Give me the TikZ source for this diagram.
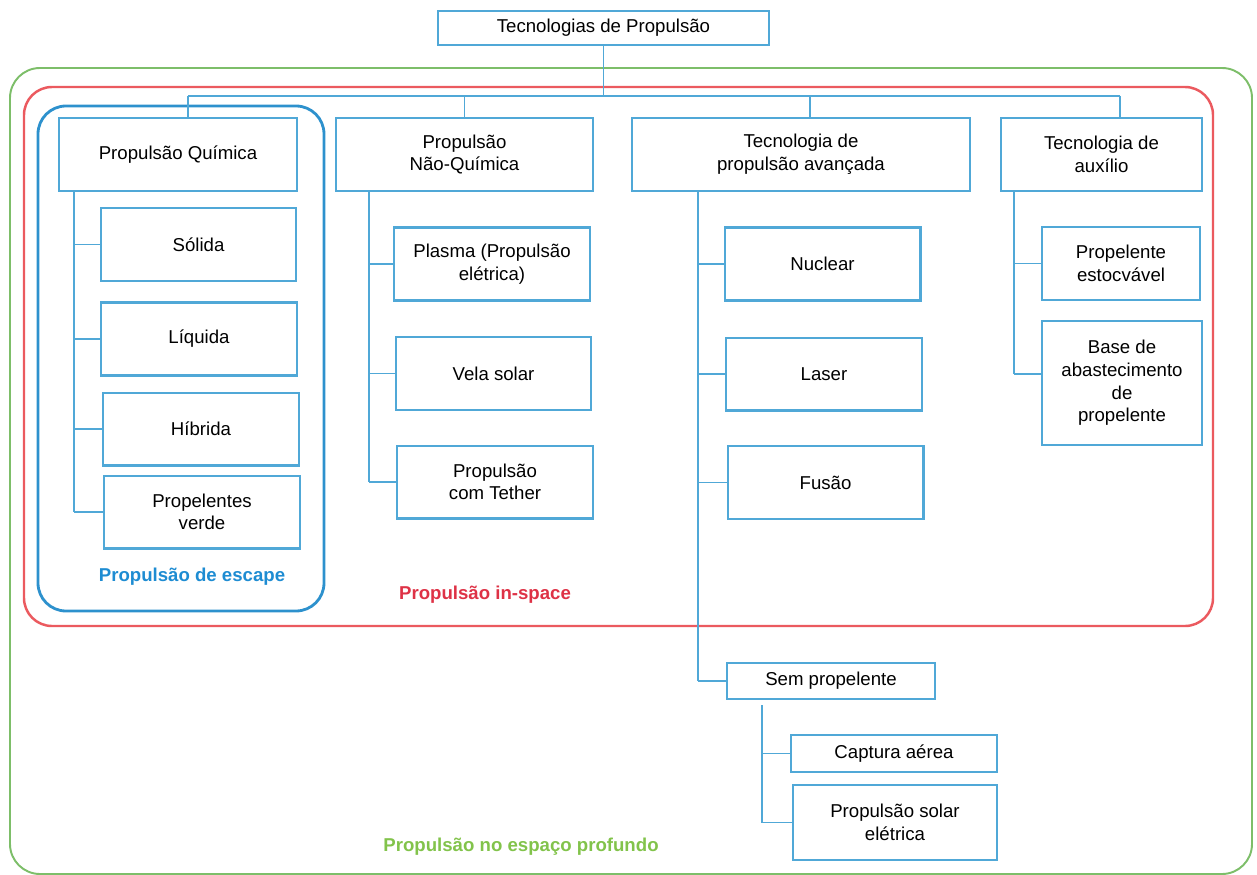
\documentclass[tikz,border=0pt]{standalone}
\usepackage{fontspec}
\setmainfont{Liberation Sans}
\usetikzlibrary{positioning,calc}
\definecolor{boxblue}{RGB}{80,168,215}
\definecolor{escblue}{RGB}{45,145,205}
\definecolor{lblblue}{RGB}{30,140,210}
\definecolor{spacered}{RGB}{235,90,95}
\definecolor{lblred}{RGB}{222,50,70}
\definecolor{deepgreen}{RGB}{125,190,105}
\definecolor{lblgreen}{RGB}{130,195,75}

\begin{document}
\begin{tikzpicture}[x=0.02cm, y=-0.02cm,
    box/.style={draw=boxblue, line width=1.15pt, align=center, inner sep=2pt,
        font=\fontsize{10.6}{12.9}\selectfont},
    leaf/.style={box, minimum width=3.92cm, minimum height=1.46cm},
    link/.style={draw=boxblue, line width=1.1pt},
    zone/.style={rounded corners=0.56cm},
    zonelabel/.style={font=\fontsize{10.6}{12.9}\selectfont\bfseries}]
    \useasboundingbox (0,0) rectangle (1257,875);

    % Nested regions
    \draw[zone, deepgreen, line width=1.1pt, rounded corners=0.6cm] (10,68) rectangle (1252,874);
    \draw[zone, spacered, line width=1.4pt] (24,87) rectangle (1213,626);
    \draw[zone, escblue, line width=1.6pt] (38,106) rectangle (324,611);
    \node[zonelabel, lblblue] (lblescape) at (192,577) {Propulsão de escape};
    \node[zonelabel, lblred] (lblinspace) at (485,595) {Propulsão in-space};
    \node[zonelabel, lblgreen] (lbldeep) at (521,847) {Propulsão no espaço profundo};

    % Root and first level
    \node[box, minimum width=6.62cm, minimum height=0.68cm] (root) at (603.5,28) {Tecnologias de Propulsão};
    \node[box, minimum width=4.76cm, minimum height=1.46cm] (quimica) at (178,154.5) {Propulsão Química};
    \node[box, minimum width=5.14cm, minimum height=1.46cm] (naoquimica) at (464.5,154.5) {Propulsão\\Não-Química};
    \node[box, minimum width=6.76cm, minimum height=1.46cm] (avancada) at (801,154.5) {Tecnologia de\\propulsão avançada};
    \node[box, minimum width=4.02cm, minimum height=1.46cm] (auxilio) at (1101.5,154.5) {Tecnologia de\\auxílio};

    % Bus from the root
    \coordinate (busL) at (188,96);
    \coordinate (busR) at (1120,96);
    \draw[link] (root.south) -- (root.south |- busL);
    \draw[link] (busL) -- (busR);
    \foreach \n/\x in {quimica/188, naoquimica/464.5, avancada/810, auxilio/1120} {
        \draw[link] (\x,96) -- (\x,96 |- \n.north);
    }

    % Chemical propulsion
    \node[leaf] (solida) at (198.5,244.5) {Sólida};
    \node[leaf] (liquida) at (199,339) {Líquida};
    \node[leaf] (hibrida) at (201,429) {Híbrida};
    \node[leaf] (verde) at (202,512) {Propelentes\\verde};
    \draw[link] (74,0 |- quimica.south) -- (74,0 |- verde.west);
    \foreach \c in {solida,liquida,hibrida,verde} {
        \draw[link] (74,0 |- \c.west) -- (\c.west);
    }

    % Non-chemical propulsion
    \node[leaf] (plasma) at (492,264) {Plasma (Propulsão\\elétrica)};
    \node[leaf] (vela) at (493.5,373.5) {Vela solar};
    \node[leaf] (tether) at (495,482) {Propulsão\\com Tether};
    \draw[link] (369,0 |- naoquimica.south) -- (369,0 |- tether.west);
    \foreach \c in {plasma,vela,tether} {
        \draw[link] (369,0 |- \c.west) -- (\c.west);
    }

    % Advanced propulsion
    \node[leaf] (nuclear) at (822.5,264) {Nuclear};
    \node[leaf] (laser) at (824,374) {Laser};
    \node[leaf] (fusao) at (825.5,482.5) {Fusão};
    \node[box, minimum width=4.16cm, minimum height=0.72cm] (semprop) at (831,681) {Sem propelente};
    \draw[link] (698,0 |- avancada.south) -- (698,0 |- semprop.west);
    \foreach \c in {nuclear,laser,fusao,semprop} {
        \draw[link] (698,0 |- \c.west) -- (\c.west);
    }

    % Propellantless
    \node[box, minimum width=4.12cm, minimum height=0.74cm] (captura) at (894,753.5) {Captura aérea};
    \node[box, minimum width=4.08cm, minimum height=1.5cm] (solar) at (895,822.5) {Propulsão solar\\elétrica};
    \draw[link] (762,705) -- (762,0 |- solar.west);
    \foreach \c in {captura,solar} {
        \draw[link] (762,0 |- \c.west) -- (\c.west);
    }

    % Support technology
    \node[box, minimum width=3.16cm, minimum height=1.46cm] (estoc) at (1121,263.5) {Propelente\\estocvável};
    \node[box, minimum width=3.2cm, minimum height=2.48cm] (base) at (1122,383) {Base de\\abastecimento\\de\\propelente};
    \draw[link] (1014,0 |- auxilio.south) -- (1014,374);
    \draw[link] (1014,0 |- estoc.west) -- (estoc.west);
    \draw[link] (1014,374) -- (base.west |- 0,374);
\end{tikzpicture}
\end{document}
